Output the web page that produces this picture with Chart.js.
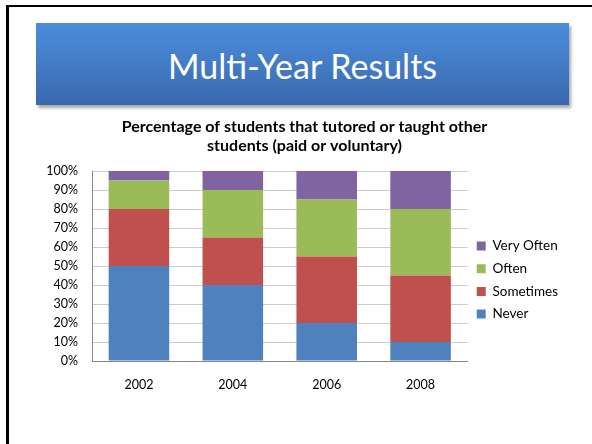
<!DOCTYPE html>
<html><head><meta charset="utf-8">
<script src="https://cdn.jsdelivr.net/npm/chart.js@4/dist/chart.umd.min.js"></script>
<style>
html,body{margin:0;padding:0;background:#fff;width:592px;height:444px;overflow:hidden;}
#slide{position:absolute;left:6px;top:5px;width:620px;height:480px;border-left:3px solid #000;border-top:2px solid #000;}
#banner{position:absolute;left:36px;top:23px;width:533px;height:82px;background:linear-gradient(#4b8ddd,#3a69ad);box-shadow:2px 3px 3px rgba(0,0,0,0.35);color:#fff;font-family:Lato;font-size:34px;display:flex;align-items:center;justify-content:center;padding-top:2px;box-sizing:border-box;}
#wrap{position:absolute;left:0;top:0;width:592px;height:444px;}
</style></head><body>
<div id="slide"></div>
<div id="banner">Multi-Year Results</div>
<div id="wrap"><canvas id="c" width="592" height="444"></canvas></div>
<script>
const categories = ['2002', '2004', '2006', '2008'];
const never = [50, 40, 20, 10];
const sometimes = [30, 25, 35, 35];
const often = [15, 25, 30, 35];
const veryOften = [5, 10, 15, 20];
const chartTitle = ['Percentage of students that tutored or taught other', 'students (paid or voluntary)'];

function draw() {
  Chart.defaults.font.family = 'Lato';
  Chart.defaults.color = '#000';
  new Chart(document.getElementById('c'), {
    type: 'bar',
    data: {
      labels: categories,
      datasets: [
        {label: 'Never', data: never, backgroundColor: '#4f81bd'},
        {label: 'Sometimes', data: sometimes, backgroundColor: '#c0504d'},
        {label: 'Often', data: often, backgroundColor: '#9bbb59'},
        {label: 'Very Often', data: veryOften, backgroundColor: '#8064a2'}
      ]
    },
    options: {
      responsive: false,
      animation: false,
      devicePixelRatio: 1,
      layout: {padding: {top: 117, left: 41, right: 24, bottom: 36}},
      datasets: {bar: {categoryPercentage: 1, barPercentage: 0.645, borderWidth: 0}},
      plugins: {
        title: {display: true, text: chartTitle, color: '#000',
          font: {size: 16, weight: 'bold', lineHeight: 1.19}, padding: {top: 0, bottom: 16}},
        legend: {
          position: 'right', reverse: true, fullSize: false, align: 'center',
          title: {display: true, text: ' ', padding: {top: 27, bottom: 0}, font: {size: 1, lineHeight: 1}},
          labels: {boxWidth: 9, boxHeight: 9, padding: 9.2, font: {size: 13.5}, color: '#000'}
        },
        tooltip: {enabled: false}
      },
      scales: {
        x: {
          stacked: true,
          grid: {display: false, drawTicks: false},
          border: {color: '#868686', width: 1},
          ticks: {padding: 16, font: {size: 12.5}, color: '#000'}
        },
        y: {
          stacked: true, min: 0, max: 100,
          afterFit: s => { s.width = 51; },
          grid: {color: '#cccccc', drawTicks: false},
          border: {color: '#868686', width: 1},
          ticks: {stepSize: 10, autoSkip: false, padding: 14, font: {size: 12.5}, color: '#000', callback: v => v + '%'}
        }
      }
    }
  });
}
Promise.all([document.fonts.load('13px Lato'), document.fonts.load('bold 16px Lato')]).then(draw, draw);
</script>
</body></html>
